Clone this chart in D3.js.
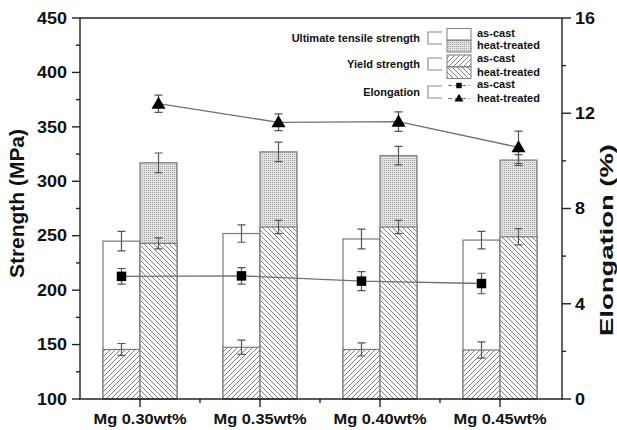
<!DOCTYPE html>
<html><head><meta charset="utf-8">
<script src="https://cdn.jsdelivr.net/npm/d3@7"></script>
<style>body{margin:0;background:#fff}text{font-family:"Liberation Sans",Arial,sans-serif;font-weight:bold;fill:#111}</style>
</head><body><svg id="c" width="617" height="430"></svg>
<script>
const categories = ["Mg 0.30wt%","Mg 0.35wt%","Mg 0.40wt%","Mg 0.45wt%"];
const utsCast = [245, 252, 247, 246];
const utsCastErr = [9, 8, 9, 8];
const utsHeat = [317, 327, 323.5, 319.5];
const utsHeatErr = [9, 9, 8.5, 5];
const ysCast = [145.5, 147.5, 145.5, 145];
const ysCastErr = [5.5, 6.5, 6, 7.5];
const ysHeat = [243, 258, 258, 249];
const ysHeatErr = [5, 6, 6, 7.5];
const elCast = [5.15, 5.17, 4.95, 4.85];
const elCastErr = [0.33, 0.35, 0.4, 0.43];
const elHeat = [12.4, 11.62, 11.65, 10.57];
const elHeatErr = [0.36, 0.35, 0.41, 0.68];
const leftTicks = [100,150,200,250,300,350,400,450];
const rightTicks = [0,4,8,12,16];

const svg = d3.select("#c");
const L=80, R=562, T=18, B=399;
const x = d3.scaleLinear().domain([0.5,4.5]).range([80,560]);
const yL = d3.scaleLinear().domain([100,450]).range([B,T]);
const yR = d3.scaleLinear().domain([0,16]).range([B,T]);
const bw = 37;

const defs = svg.append("defs");
const p1 = defs.append("pattern").attr("id","hf").attr("patternUnits","userSpaceOnUse").attr("width",5).attr("height",5);
p1.append("rect").attr("width",5).attr("height",5).attr("fill","#fff");
p1.append("path").attr("d","M0,5L5,0M-1,1L1,-1M4,6L6,4").attr("stroke","#707070").attr("stroke-width",0.9);
const p2 = defs.append("pattern").attr("id","hb").attr("patternUnits","userSpaceOnUse").attr("width",5).attr("height",5);
p2.append("rect").attr("width",5).attr("height",5).attr("fill","#fff");
p2.append("path").attr("d","M0,0L5,5M-1,4L1,6M4,-1L6,1").attr("stroke","#707070").attr("stroke-width",0.9);
const p3 = defs.append("pattern").attr("id","dot").attr("patternUnits","userSpaceOnUse").attr("width",2).attr("height",2);
p3.append("rect").attr("width",2).attr("height",2).attr("fill","#e2e2e2");
p3.append("rect").attr("width",1).attr("height",1).attr("fill","#a8a8a8");

const idx = d3.range(categories.length);
const stroke = "#7a7a7a";
// UTS bars
svg.selectAll(".uc").data(idx).join("rect").attr("x",i=>x(i+1)-bw).attr("width",bw)
  .attr("y",i=>yL(utsCast[i])).attr("height",i=>yL(100)-yL(utsCast[i])).attr("fill","#fff").attr("stroke",stroke).attr("stroke-width",1.2);
svg.selectAll(".uh").data(idx).join("rect").attr("x",i=>x(i+1)).attr("width",bw)
  .attr("y",i=>yL(utsHeat[i])).attr("height",i=>yL(100)-yL(utsHeat[i])).attr("fill","url(#dot)").attr("stroke",stroke).attr("stroke-width",1.2);
// YS bars
svg.selectAll(".yc").data(idx).join("rect").attr("x",i=>x(i+1)-bw).attr("width",bw)
  .attr("y",i=>yL(ysCast[i])).attr("height",i=>yL(100)-yL(ysCast[i])).attr("fill","url(#hf)").attr("stroke",stroke).attr("stroke-width",1.2);
svg.selectAll(".yh").data(idx).join("rect").attr("x",i=>x(i+1)).attr("width",bw)
  .attr("y",i=>yL(ysHeat[i])).attr("height",i=>yL(100)-yL(ysHeat[i])).attr("fill","url(#hb)").attr("stroke",stroke).attr("stroke-width",1.2);

function errBars(vals, errs, scale, dx){
  const g = svg.append("g").attr("stroke","#555").attr("stroke-width",1.2).attr("fill","none");
  idx.forEach(i=>{
    const cx = x(i+1)+dx, y1 = scale(vals[i]+errs[i]), y2 = scale(vals[i]-errs[i]);
    g.append("path").attr("d",`M${cx},${y1}V${y2}M${cx-4},${y1}H${cx+4}M${cx-4},${y2}H${cx+4}`);
  });
}
errBars(utsCast, utsCastErr, yL, -bw/2);
errBars(utsHeat, utsHeatErr, yL, bw/2);
errBars(ysCast, ysCastErr, yL, -bw/2);
errBars(ysHeat, ysHeatErr, yL, bw/2);

// elongation lines
const lineC = d3.line().x((d,i)=>x(i+1)-bw/2).y(d=>yR(d));
const lineH = d3.line().x((d,i)=>x(i+1)+bw/2).y(d=>yR(d));
svg.append("path").attr("d",lineC(elCast)).attr("fill","none").attr("stroke","#707070").attr("stroke-width",1.3);
svg.append("path").attr("d",lineH(elHeat)).attr("fill","none").attr("stroke","#707070").attr("stroke-width",1.3);
errBars(elCast, elCastErr, yR, -bw/2);
errBars(elHeat, elHeatErr, yR, bw/2);
const sq = d3.symbol().type(d3.symbolSquare).size(90);
const tri = d3.symbol().type(d3.symbolTriangle).size(85);
svg.selectAll(".ms").data(idx).join("path").attr("d",sq).attr("fill","#000")
  .attr("transform",i=>`translate(${x(i+1)-bw/2},${yR(elCast[i])})`);
svg.selectAll(".mt").data(idx).join("path").attr("d",tri).attr("fill","#000")
  .attr("transform",i=>`translate(${x(i+1)+bw/2},${yR(elHeat[i])+1})`);

// axes frame
const ax = svg.append("g").attr("stroke","#222").attr("stroke-width",1.4).attr("fill","none");
ax.append("path").attr("d",`M${L},${T}H${R}M${L},${T}V${B}M${R},${T}V${B}M${L-1},${B}H${R+1}`);
// left ticks
leftTicks.forEach(v=>{ ax.append("path").attr("d",`M${L-8},${yL(v)}H${L}`);
  svg.append("text").attr("x",67).attr("y",yL(v)).attr("dy","0.36em").attr("text-anchor","end").attr("font-size",16)
   .attr("textLength",String(v).length*10).attr("lengthAdjust","spacingAndGlyphs").text(v); });
d3.range(125,450,50).forEach(v=> ax.append("path").attr("d",`M${L-4},${yL(v)}H${L}`));
// right ticks
rightTicks.forEach(v=>{ ax.append("path").attr("d",`M${R},${yR(v)}H${R+9}`);
  svg.append("text").attr("x",575).attr("y",yR(v)).attr("dy","0.36em").attr("text-anchor","start").attr("font-size",16)
   .attr("textLength",String(v).length*10).attr("lengthAdjust","spacingAndGlyphs").text(v); });
[2,6,10,14].forEach(v=> ax.append("path").attr("d",`M${R},${yR(v)}H${R+4}`));
// bottom ticks
idx.forEach(i=>{ ax.append("path").attr("d",`M${x(i+1)},${B}V${B+8}`);
  svg.append("text").attr("x",x(i+1)).attr("y",424).attr("text-anchor","middle").attr("font-size",14.5)
   .attr("textLength",93).attr("lengthAdjust","spacingAndGlyphs").text(categories[i]); });
[1.5,2.5,3.5].forEach(v=> ax.append("path").attr("d",`M${x(v)},${B}V${B+4}`));

// axis titles
svg.append("text").attr("transform","translate(24,203.5) rotate(-90)").attr("text-anchor","middle").attr("font-size",21)
  .attr("textLength",149).attr("lengthAdjust","spacingAndGlyphs").text("Strength (MPa)");
svg.append("text").attr("transform","translate(613,240) rotate(-90)").attr("text-anchor","middle").attr("font-size",19)
  .attr("textLength",192).attr("lengthAdjust","spacingAndGlyphs").text("Elongation (%)");

// legend
const lg = svg.append("g");
const legTitles = [["Ultimate tensile strength",38],["Yield strength",64],["Elongation",92]];
legTitles.forEach(([t,cy])=>{
  lg.append("text").attr("x",420).attr("y",cy).attr("dy","0.36em").attr("text-anchor","end").attr("font-size",11).text(t);
  lg.append("path").attr("d",`M442,${cy-6}H428V${cy+6}H442`).attr("fill","none").attr("stroke","#888").attr("stroke-width",1.1);
});
const boxes = [[28.5,"#fff"],[40.5,"url(#dot)"],[55,"url(#hf)"],[67,"url(#hb)"]];
boxes.forEach(([y0,f])=> lg.append("rect").attr("x",447).attr("y",y0).attr("width",24).attr("height",11.5).attr("fill",f).attr("stroke","#888").attr("stroke-width",1.1));
lg.append("path").attr("d","M448,85.5H470M448,98.5H470").attr("stroke","#777").attr("stroke-width",1.1).attr("stroke-dasharray","4,3");
lg.append("path").attr("d",sq.size(30)).attr("transform","translate(459,85.5)").attr("fill","#000");
lg.append("path").attr("d",tri.size(35)).attr("transform","translate(459,99)").attr("fill","#000");
const legLabels = [["as-cast",33],["heat-treated",45.5],["as-cast",58],["heat-treated",72],["as-cast",84],["heat-treated",98.5]];
legLabels.forEach(([t,cy])=> lg.append("text").attr("x",477).attr("y",cy).attr("dy","0.36em").attr("font-size",11).text(t));
</script></body></html>
